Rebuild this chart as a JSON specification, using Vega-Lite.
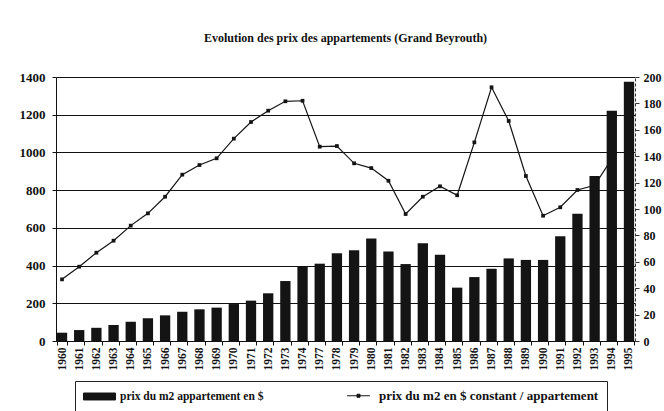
{
  "$schema": "https://vega.github.io/schema/vega-lite/v6.json",
  "autosize": "none",
  "padding": {"left": 56, "top": 77, "right": 29, "bottom": 70},
  "width": 579,
  "height": 264,
  "background": "white",
  "title": {
    "text": "Evolution des prix des appartements (Grand Beyrouth)",
    "font": "Liberation Serif",
    "fontSize": 12,
    "fontWeight": "bold",
    "color": "#111",
    "anchor": "middle",
    "frame": "group",
    "offset": 26
  },
  "data": {
    "values": [
      {"annee": 1960, "prix": 44, "constant": 46.7},
      {"annee": 1961, "prix": 58, "constant": 56.3},
      {"annee": 1962, "prix": 70, "constant": 66.9},
      {"annee": 1963, "prix": 85, "constant": 76},
      {"annee": 1964, "prix": 102, "constant": 87.4},
      {"annee": 1965, "prix": 120, "constant": 96.7},
      {"annee": 1966, "prix": 136, "constant": 109.3},
      {"annee": 1967, "prix": 155, "constant": 126},
      {"annee": 1968, "prix": 168, "constant": 133.3},
      {"annee": 1969, "prix": 177, "constant": 138.4},
      {"annee": 1970, "prix": 196, "constant": 153.3},
      {"annee": 1971, "prix": 214, "constant": 165.9},
      {"annee": 1972, "prix": 253, "constant": 174.5},
      {"annee": 1973, "prix": 318, "constant": 181.6},
      {"annee": 1974, "prix": 394, "constant": 182},
      {"annee": 1977, "prix": 410, "constant": 147.2},
      {"annee": 1978, "prix": 465, "constant": 147.7},
      {"annee": 1979, "prix": 481, "constant": 134.6},
      {"annee": 1980, "prix": 544, "constant": 131},
      {"annee": 1981, "prix": 475, "constant": 121.4},
      {"annee": 1982, "prix": 408, "constant": 96.2},
      {"annee": 1983, "prix": 518, "constant": 109.3},
      {"annee": 1984, "prix": 458, "constant": 117.2},
      {"annee": 1985, "prix": 283, "constant": 110.4},
      {"annee": 1986, "prix": 339, "constant": 150.5},
      {"annee": 1987, "prix": 383, "constant": 192.2},
      {"annee": 1988, "prix": 438, "constant": 166.7},
      {"annee": 1989, "prix": 430, "constant": 125},
      {"annee": 1990, "prix": 430, "constant": 94.9},
      {"annee": 1991, "prix": 555, "constant": 101.3},
      {"annee": 1992, "prix": 675, "constant": 114.4},
      {"annee": 1993, "prix": 875, "constant": 118},
      {"annee": 1994, "prix": 1221, "constant": 138},
      {"annee": 1995, "prix": 1375}
    ]
  },
  "encoding": {
    "x": {
      "field": "annee",
      "type": "ordinal",
      "scale": {"paddingInner": 0.4, "paddingOuter": 0.05},
      "axis": {
        "title": null,
        "labelAngle": -90,
        "labelFont": "Liberation Serif",
        "labelFontSize": 11.5,
        "labelFontWeight": "bold",
        "labelColor": "#111",
        "labelPadding": 2,
        "tickBand": "extent",
        "tickSize": 4,
        "tickColor": "#111",
        "domainColor": "#111",
        "grid": false
      }
    }
  },
  "layer": [
    {
      "mark": {
        "type": "line",
        "strokeWidth": 1.2,
        "point": {"shape": "square", "size": 14, "filled": true, "color": "#141414"}
      },
      "encoding": {
        "y": {
          "field": "constant",
          "type": "quantitative",
          "scale": {"domain": [0, 200]},
          "axis": {
            "orient": "right",
            "title": null,
            "values": [0, 20, 40, 60, 80, 100, 120, 140, 160, 180, 200],
            "format": "d",
            "labelFont": "Liberation Serif",
            "labelFontSize": 12,
            "labelFontWeight": "bold",
            "labelColor": "#111",
            "tickSize": 4,
            "tickColor": "#333",
            "labelPadding": 4,
            "domainColor": "#333",
            "domainDash": [3, 2],
            "grid": false
          }
        },
        "color": {
          "datum": "prix du m2 en $ constant / appartement",
          "scale": {
            "domain": ["prix du m2 appartement en $", "prix du m2 en $ constant / appartement"],
            "range": ["#141414", "#141414"]
          },
          "legend": {
            "orient": "none",
            "legendX": 19,
            "legendY": 304,
            "direction": "horizontal",
            "title": null,
            "strokeColor": "#222",
            "padding": 8,
            "labelFont": "Liberation Serif",
            "labelFontSize": 11.5,
            "labelFontWeight": "bold",
            "labelColor": "#111",
            "labelLimit": 400,
            "symbolSize": 144,
            "symbolOffset": 10,
            "labelOffset": 14,
            "columnPadding": 78,
            "encode": {
              "symbols": {
                "update": {
                  "shape": {"signal": "datum.value === 'prix du m2 appartement en $' ? 'M-2.67,-0.58H2.67V0.58H-2.67Z' : 'M-1.9,0H1.9M-0.25,-0.25H0.25V0.25H-0.25Z'"},
                  "fill": {"value": "#141414"},
                  "stroke": {"value": "#141414"},
                  "strokeWidth": {"value": 1},
                  "opacity": {"value": 1}
                }
              },
              "labels": {
                "update": {
                  "fontSize": {"signal": "datum.value === 'prix du m2 appartement en $' ? 11.5 : 13"}
                }
              }
            }
          }
        }
      }
    },
    {
      "mark": {"type": "bar"},
      "encoding": {
        "y": {
          "field": "prix",
          "type": "quantitative",
          "scale": {"domain": [0, 1400]},
          "axis": {
            "orient": "left",
            "title": null,
            "values": [0, 200, 400, 600, 800, 1000, 1200, 1400],
            "format": "d",
            "labelFont": "Liberation Serif",
            "labelFontSize": 13,
            "labelFontWeight": "bold",
            "labelColor": "#111",
            "tickSize": 4,
            "tickColor": "#111",
            "labelPadding": 7,
            "domainColor": "#111",
            "grid": true,
            "gridColor": "#111",
            "gridWidth": 1,
            "gridOpacity": 1
          }
        },
        "color": {"datum": "prix du m2 appartement en $"}
      }
    }
  ],
  "resolve": {"scale": {"y": "independent"}},
  "config": {
    "view": {"stroke": null}
  }
}
